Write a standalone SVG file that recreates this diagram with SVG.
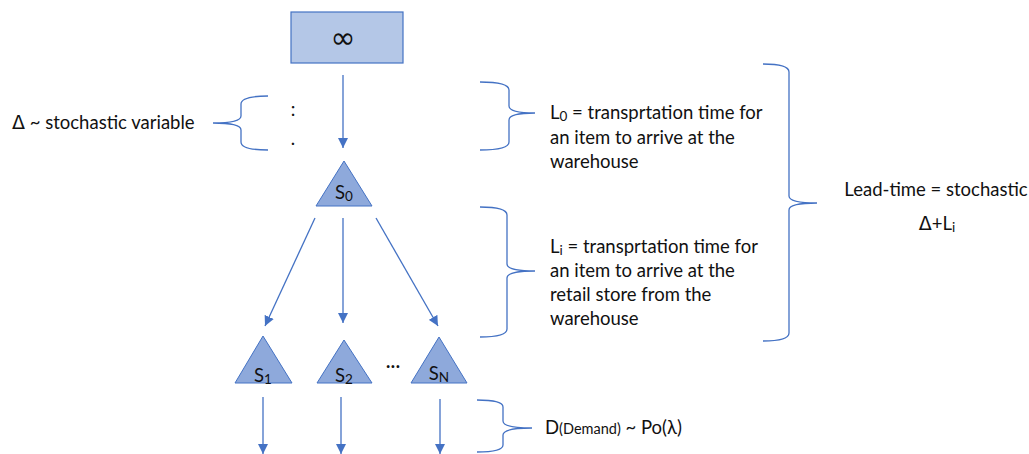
<svg xmlns="http://www.w3.org/2000/svg" width="1029" height="454" viewBox="0 0 1029 454">
<defs>
<style>
.t{font-family:Lato,"Open Sans","Liberation Sans",sans-serif;font-size:18.5px;fill:#111}
.sub{font-size:13.5px}
.dl{font-family:"DejaVu Sans",sans-serif;font-size:19px}
.br{fill:none;stroke:#4472c4;stroke-width:1.3}
.ar{stroke:#4472c4;stroke-width:1.3;fill:none;marker-end:url(#ah)}
.tri{fill:#8ea9db;stroke:#4472c4;stroke-width:1}
</style>
<marker id="ah" viewBox="0 0 10 10" refX="10" refY="5" markerWidth="10" markerHeight="10" markerUnits="userSpaceOnUse" orient="auto">
<path d="M0,0 L10,5 L0,10 z" fill="#4472c4"/>
</marker>
</defs>
<rect width="1029" height="454" fill="#fff"/>

<g id="source">
<rect x="291" y="12" width="112" height="51" fill="#b4c7e7" stroke="#4472c4" stroke-width="1.2"/>
<text x="343" y="48" text-anchor="middle" font-family="DejaVu Sans,sans-serif" font-size="30" fill="#111">∞</text>
</g>

<g id="dots">
<text x="293" y="116" text-anchor="middle" class="t">:</text>
<text x="293" y="145" text-anchor="middle" class="t">.</text>
</g>

<g id="S0">
<polygon class="tri" points="344,161 372,206 316,206"/>
<text x="344" y="199" text-anchor="middle" class="t" font-size="18">S<tspan class="sub" dy="2">0</tspan></text>
</g>

<g id="S1">
<polygon class="tri" points="263,336 292,383 235,383"/>
<text x="263" y="382" text-anchor="middle" class="t" font-size="18">S<tspan class="sub" dy="2">1</tspan></text>
</g>
<g id="S2">
<polygon class="tri" points="344,340 372,383 317,383"/>
<text x="344" y="382" text-anchor="middle" class="t" font-size="18">S<tspan class="sub" dy="2">2</tspan></text>
</g>
<g id="ellipsis">
<text x="393" y="372" text-anchor="middle" class="t" font-size="16">···</text>
</g>
<g id="SN">
<polygon class="tri" points="439,337 467,383 411,383"/>
<text x="439" y="380" text-anchor="middle" class="t" font-size="18">S<tspan class="sub" dy="2">N</tspan></text>
</g>

<g id="connectors">
<line class="ar" x1="343" y1="75" x2="343" y2="148"/>
<line class="ar" x1="315" y1="218" x2="265" y2="326"/>
<line class="ar" x1="343" y1="218" x2="343" y2="323"/>
<line class="ar" x1="376" y1="218" x2="438" y2="326"/>
<line class="ar" x1="263" y1="397" x2="263" y2="454"/>
<line class="ar" x1="341" y1="397" x2="341" y2="454"/>
<line class="ar" x1="440" y1="399" x2="440" y2="454"/>
</g>

<g id="delta-brace">
<path class="br" d="M268,96 Q241,96 241,104 V116 Q241,123 213,123 Q241,123 241,130 V142 Q241,150 268,150"/>
<text x="12" y="129" class="t"><tspan class="dl">Δ</tspan> ~ stochastic variable</text>
</g>

<g id="L0-brace">
<path class="br" d="M480,82 Q509,82 509,90 V106 Q509,113 535,113 Q509,113 509,120 V142 Q509,150 480,150"/>
<text class="t" x="550" y="119">L<tspan class="sub" dy="2">0</tspan><tspan dy="-2"> = transprtation time for</tspan></text>
<text class="t" x="550" y="144">an item to arrive at the</text>
<text class="t" x="550" y="168">warehouse</text>
</g>

<g id="Li-brace">
<path class="br" d="M480,207 Q507,207 507,215 V264 Q507,271 535,271 Q507,271 507,278 V329 Q507,337 480,337"/>
<text class="t" x="550" y="253">L<tspan class="sub" dy="2">i</tspan><tspan dy="-2"> = transprtation time for</tspan></text>
<text class="t" x="550" y="277">an item to arrive at the</text>
<text class="t" x="550" y="301">retail store from the</text>
<text class="t" x="550" y="325">warehouse</text>
</g>

<g id="lead-brace">
<path class="br" d="M763,64 Q789,64 789,72 V196 Q789,203 817,203 Q789,203 789,210 V333 Q789,341 763,341"/>
<text class="t" x="936" y="196" text-anchor="middle">Lead-time = stochastic</text>
<text class="t" x="937" y="230" text-anchor="middle"><tspan class="dl">Δ</tspan>+L<tspan class="sub" dy="2">i</tspan></text>
</g>

<g id="demand-brace">
<path class="br" d="M477,400 Q503,400 503,407 V421 Q503,428 532,428 Q503,428 503,435 V445 Q503,452 477,452"/>
<text class="t" x="545" y="434">D<tspan font-size="14.5">(Demand)</tspan> ~ Po(λ)</text>
</g>
</svg>
